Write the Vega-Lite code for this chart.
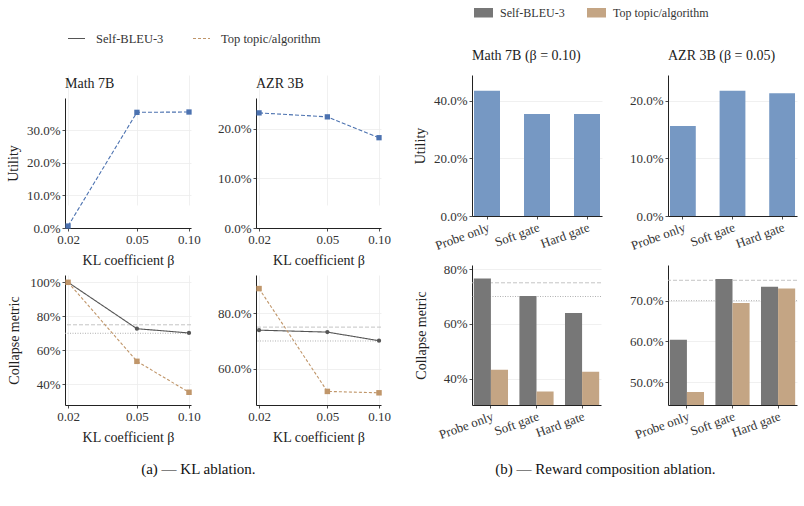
{
  "$schema": "https://vega.github.io/schema/vega-lite/v6.json",
  "padding": {"left": 6, "top": 1, "right": 5, "bottom": 5},
  "datasets": {
    "klUtil": [
      {"model": "Math 7B", "beta": 0.02, "value": 0.006},
      {"model": "Math 7B", "beta": 0.05, "value": 0.355},
      {"model": "Math 7B", "beta": 0.10, "value": 0.356},
      {"model": "AZR 3B", "beta": 0.02, "value": 0.232},
      {"model": "AZR 3B", "beta": 0.05, "value": 0.224},
      {"model": "AZR 3B", "beta": 0.10, "value": 0.182}
    ],
    "klCollapse": [
      {"model": "Math 7B", "series": "Self-BLEU-3", "beta": 0.02, "value": 1.0},
      {"model": "Math 7B", "series": "Self-BLEU-3", "beta": 0.05, "value": 0.727},
      {"model": "Math 7B", "series": "Self-BLEU-3", "beta": 0.10, "value": 0.702},
      {"model": "Math 7B", "series": "Top topic/algorithm", "beta": 0.02, "value": 1.0},
      {"model": "Math 7B", "series": "Top topic/algorithm", "beta": 0.05, "value": 0.535},
      {"model": "Math 7B", "series": "Top topic/algorithm", "beta": 0.10, "value": 0.353},
      {"model": "AZR 3B", "series": "Self-BLEU-3", "beta": 0.02, "value": 0.739},
      {"model": "AZR 3B", "series": "Self-BLEU-3", "beta": 0.05, "value": 0.732},
      {"model": "AZR 3B", "series": "Self-BLEU-3", "beta": 0.10, "value": 0.701},
      {"model": "AZR 3B", "series": "Top topic/algorithm", "beta": 0.02, "value": 0.889},
      {"model": "AZR 3B", "series": "Top topic/algorithm", "beta": 0.05, "value": 0.518},
      {"model": "AZR 3B", "series": "Top topic/algorithm", "beta": 0.10, "value": 0.513}
    ],
    "rcUtil": [
      {"model": "Math 7B", "variant": "Probe only", "value": 0.434},
      {"model": "Math 7B", "variant": "Soft gate", "value": 0.354},
      {"model": "Math 7B", "variant": "Hard gate", "value": 0.354},
      {"model": "AZR 3B", "variant": "Probe only", "value": 0.156},
      {"model": "AZR 3B", "variant": "Soft gate", "value": 0.217},
      {"model": "AZR 3B", "variant": "Hard gate", "value": 0.213}
    ],
    "rcCollapse": [
      {"model": "Math 7B", "series": "Self-BLEU-3", "variant": "Probe only", "value": 0.766},
      {"model": "Math 7B", "series": "Self-BLEU-3", "variant": "Soft gate", "value": 0.702},
      {"model": "Math 7B", "series": "Self-BLEU-3", "variant": "Hard gate", "value": 0.640},
      {"model": "Math 7B", "series": "Top topic/algorithm", "variant": "Probe only", "value": 0.433},
      {"model": "Math 7B", "series": "Top topic/algorithm", "variant": "Soft gate", "value": 0.353},
      {"model": "Math 7B", "series": "Top topic/algorithm", "variant": "Hard gate", "value": 0.425},
      {"model": "AZR 3B", "series": "Self-BLEU-3", "variant": "Probe only", "value": 0.604},
      {"model": "AZR 3B", "series": "Self-BLEU-3", "variant": "Soft gate", "value": 0.753},
      {"model": "AZR 3B", "series": "Self-BLEU-3", "variant": "Hard gate", "value": 0.734},
      {"model": "AZR 3B", "series": "Top topic/algorithm", "variant": "Probe only", "value": 0.476},
      {"model": "AZR 3B", "series": "Top topic/algorithm", "variant": "Soft gate", "value": 0.694},
      {"model": "AZR 3B", "series": "Top topic/algorithm", "variant": "Hard gate", "value": 0.730}
    ],
    "refs": [
      {"threshold": 0.75, "style": "dashed"},
      {"threshold": 0.70, "style": "dotted"}
    ]
  },
  "spacing": 22,
  "resolve": {
    "scale": {"color": "independent", "strokeDash": "independent"},
    "legend": {"color": "independent", "strokeDash": "independent"}
  },
  "hconcat": [
    {
      "title": {"text": "(a) — KL ablation.", "orient": "bottom", "anchor": "middle", "frame": "bounds", "fontSize": 15, "offset": 18, "color": "#111"},
      "bounds": "flush",
      "columns": 2,
      "spacing": {"row": 47, "column": 65},
      "concat": [
        {
          "width": 126, "height": 153,
          "title": {"text": "Math 7B", "offset": -16},
          "layer": [
            {
              "data": {"name": "klUtil"},
              "transform": [{"filter": "datum.model === 'Math 7B'"}],
              "mark": {"type": "line", "color": "#4c72b0", "strokeWidth": 1.1, "strokeDash": [4, 2]},
              "encoding": {
                "x": {"field": "beta", "type": "quantitative", "scale": {"type": "log", "domain": [0.0192, 0.1027], "nice": false}, "axis": {"values": [0.02, 0.05, 0.1], "format": ".2f", "title": "KL coefficient β"}},
                "y": {"field": "value", "type": "quantitative", "scale": {"domain": [0, 0.399], "range": [153, 23], "nice": false, "zero": false}, "axis": {"values": [0, 0.1, 0.2, 0.3], "format": ".1%", "title": "Utility"}}
              }
            },
            {
              "data": {"name": "klUtil"},
              "transform": [{"filter": "datum.model === 'Math 7B'"}],
              "mark": {"type": "point", "shape": "square", "filled": true, "size": 28, "color": "#4c72b0", "opacity": 1},
              "encoding": {
                "x": {"field": "beta", "type": "quantitative"},
                "y": {"field": "value", "type": "quantitative"}
              }
            }
          ]
        },
        {
          "width": 125, "height": 153,
          "title": {"text": "AZR 3B", "offset": -16},
          "layer": [
            {
              "data": {"name": "klUtil"},
              "transform": [{"filter": "datum.model === 'AZR 3B'"}],
              "mark": {"type": "line", "color": "#4c72b0", "strokeWidth": 1.1, "strokeDash": [4, 2]},
              "encoding": {
                "x": {"field": "beta", "type": "quantitative", "scale": {"type": "log", "domain": [0.0192, 0.1027], "nice": false}, "axis": {"values": [0.02, 0.05, 0.1], "format": ".2f", "title": "KL coefficient β"}},
                "y": {"field": "value", "type": "quantitative", "scale": {"domain": [0, 0.262], "range": [153, 23], "nice": false, "zero": false}, "axis": {"values": [0, 0.1, 0.2], "format": ".1%", "title": null}}
              }
            },
            {
              "data": {"name": "klUtil"},
              "transform": [{"filter": "datum.model === 'AZR 3B'"}],
              "mark": {"type": "point", "shape": "square", "filled": true, "size": 28, "color": "#4c72b0", "opacity": 1},
              "encoding": {
                "x": {"field": "beta", "type": "quantitative"},
                "y": {"field": "value", "type": "quantitative"}
              }
            }
          ]
        },
        {
          "width": 126, "height": 130,
          "layer": [
            {
              "data": {"name": "refs"},
              "transform": [{"filter": "datum.style === 'dashed'"}],
              "mark": {"type": "rule", "color": "#bdbdbd", "strokeWidth": 0.9, "strokeDash": [4, 2]},
              "encoding": {"y": {"field": "threshold", "type": "quantitative"}}
            },
            {
              "data": {"name": "refs"},
              "transform": [{"filter": "datum.style === 'dotted'"}],
              "mark": {"type": "rule", "color": "#a8a8a8", "strokeWidth": 0.9, "strokeDash": [1, 1.5]},
              "encoding": {"y": {"field": "threshold", "type": "quantitative"}}
            },
            {
              "data": {"name": "klCollapse"},
              "transform": [{"filter": "datum.model === 'Math 7B'"}],
              "mark": {"type": "line", "strokeWidth": 1.1},
              "encoding": {
                "x": {"field": "beta", "type": "quantitative", "scale": {"type": "log", "domain": [0.0192, 0.1027], "nice": false}, "axis": {"values": [0.02, 0.05, 0.1], "format": ".2f", "title": "KL coefficient β"}},
                "y": {"field": "value", "type": "quantitative", "scale": {"domain": [0.278, 1.043], "nice": false, "zero": false}, "axis": {"values": [0.4, 0.6, 0.8, 1.0], "format": ".0%", "title": "Collapse metric"}},
                "color": {"field": "series", "type": "nominal", "scale": {"domain": ["Self-BLEU-3", "Top topic/algorithm"], "range": ["#555555", "#c0966a"]}, "legend": {"title": null, "orient": "top", "direction": "horizontal", "symbolType": "stroke", "symbolSize": 289, "symbolStrokeWidth": 1.2, "labelFontSize": 12.5, "padding": 2, "offset": 28, "columnPadding": 26, "labelOffset": 10}},
                "strokeDash": {"field": "series", "type": "nominal", "scale": {"domain": ["Self-BLEU-3", "Top topic/algorithm"], "range": [[1, 0], [3, 2]]}, "legend": {"title": null, "orient": "top", "direction": "horizontal", "symbolType": "stroke", "symbolSize": 289, "symbolStrokeWidth": 1.2, "labelFontSize": 12.5, "padding": 2, "offset": 28, "columnPadding": 26, "labelOffset": 10}}
              }
            },
            {
              "data": {"name": "klCollapse"},
              "transform": [{"filter": "datum.model === 'Math 7B' && datum.series === 'Self-BLEU-3'"}],
              "mark": {"type": "point", "shape": "circle", "filled": true, "size": 18, "color": "#555555", "opacity": 1},
              "encoding": {"x": {"field": "beta", "type": "quantitative"}, "y": {"field": "value", "type": "quantitative"}}
            },
            {
              "data": {"name": "klCollapse"},
              "transform": [{"filter": "datum.model === 'Math 7B' && datum.series === 'Top topic/algorithm'"}],
              "mark": {"type": "point", "shape": "square", "filled": true, "size": 30, "color": "#c0966a", "opacity": 1},
              "encoding": {"x": {"field": "beta", "type": "quantitative"}, "y": {"field": "value", "type": "quantitative"}}
            }
          ]
        },
        {
          "width": 125, "height": 130,
          "layer": [
            {
              "data": {"name": "refs"},
              "transform": [{"filter": "datum.style === 'dashed'"}],
              "mark": {"type": "rule", "color": "#bdbdbd", "strokeWidth": 0.9, "strokeDash": [4, 2]},
              "encoding": {"y": {"field": "threshold", "type": "quantitative"}}
            },
            {
              "data": {"name": "refs"},
              "transform": [{"filter": "datum.style === 'dotted'"}],
              "mark": {"type": "rule", "color": "#a8a8a8", "strokeWidth": 0.9, "strokeDash": [1, 1.5]},
              "encoding": {"y": {"field": "threshold", "type": "quantitative"}}
            },
            {
              "data": {"name": "klCollapse"},
              "transform": [{"filter": "datum.model === 'AZR 3B'"}],
              "mark": {"type": "line", "strokeWidth": 1.1},
              "encoding": {
                "x": {"field": "beta", "type": "quantitative", "scale": {"type": "log", "domain": [0.0192, 0.1027], "nice": false}, "axis": {"values": [0.02, 0.05, 0.1], "format": ".2f", "title": "KL coefficient β"}},
                "y": {"field": "value", "type": "quantitative", "scale": {"domain": [0.469, 0.938], "nice": false, "zero": false}, "axis": {"values": [0.6, 0.8], "format": ".1%", "title": null}},
                "color": {"field": "series", "type": "nominal", "scale": {"domain": ["Self-BLEU-3", "Top topic/algorithm"], "range": ["#555555", "#c0966a"]}, "legend": {"title": null, "orient": "top", "direction": "horizontal", "symbolType": "stroke", "symbolSize": 289, "symbolStrokeWidth": 1.2, "labelFontSize": 12.5, "padding": 2, "offset": 28, "columnPadding": 26, "labelOffset": 10}},
                "strokeDash": {"field": "series", "type": "nominal", "scale": {"domain": ["Self-BLEU-3", "Top topic/algorithm"], "range": [[1, 0], [3, 2]]}, "legend": {"title": null, "orient": "top", "direction": "horizontal", "symbolType": "stroke", "symbolSize": 289, "symbolStrokeWidth": 1.2, "labelFontSize": 12.5, "padding": 2, "offset": 28, "columnPadding": 26, "labelOffset": 10}}
              }
            },
            {
              "data": {"name": "klCollapse"},
              "transform": [{"filter": "datum.model === 'AZR 3B' && datum.series === 'Self-BLEU-3'"}],
              "mark": {"type": "point", "shape": "circle", "filled": true, "size": 18, "color": "#555555", "opacity": 1},
              "encoding": {"x": {"field": "beta", "type": "quantitative"}, "y": {"field": "value", "type": "quantitative"}}
            },
            {
              "data": {"name": "klCollapse"},
              "transform": [{"filter": "datum.model === 'AZR 3B' && datum.series === 'Top topic/algorithm'"}],
              "mark": {"type": "point", "shape": "square", "filled": true, "size": 30, "color": "#c0966a", "opacity": 1},
              "encoding": {"x": {"field": "beta", "type": "quantitative"}, "y": {"field": "value", "type": "quantitative"}}
            }
          ]
        }
      ]
    },
    {
      "title": {"text": "(b) — Reward composition ablation.", "orient": "bottom", "anchor": "middle", "frame": "bounds", "fontSize": 15, "offset": 20, "color": "#111"},
      "bounds": "flush",
      "columns": 2,
      "spacing": {"row": 49, "column": 66},
      "concat": [
        {
          "width": 130, "height": 141,
          "title": {"text": "Math 7B (β = 0.10)", "offset": 12},
          "data": {"name": "rcUtil"},
          "transform": [{"filter": "datum.model === 'Math 7B'"}],
          "mark": {"type": "bar", "color": "#7698c3"},
          "encoding": {
            "x": {"field": "variant", "type": "nominal", "sort": ["Probe only", "Soft gate", "Hard gate"], "scale": {"paddingInner": 0.48, "paddingOuter": 0.04}, "axis": {"labelAngle": -20, "title": null}},
            "y": {"field": "value", "type": "quantitative", "scale": {"domain": [0, 0.489], "nice": false, "zero": false}, "axis": {"values": [0, 0.2, 0.4], "format": ".1%", "title": "Utility"}}
          }
        },
        {
          "width": 129, "height": 141,
          "title": {"text": "AZR 3B (β = 0.05)", "offset": 12},
          "data": {"name": "rcUtil"},
          "transform": [{"filter": "datum.model === 'AZR 3B'"}],
          "mark": {"type": "bar", "color": "#7698c3"},
          "encoding": {
            "x": {"field": "variant", "type": "nominal", "sort": ["Probe only", "Soft gate", "Hard gate"], "scale": {"paddingInner": 0.48, "paddingOuter": 0.04}, "axis": {"labelAngle": -20, "title": null}},
            "y": {"field": "value", "type": "quantitative", "scale": {"domain": [0, 0.2445], "nice": false, "zero": false}, "axis": {"values": [0, 0.1, 0.2], "format": ".1%", "title": null}}
          }
        },
        {
          "width": 129, "height": 140,
          "layer": [
            {
              "data": {"name": "refs"},
              "transform": [{"filter": "datum.style === 'dashed'"}],
              "mark": {"type": "rule", "color": "#bdbdbd", "strokeWidth": 0.9, "strokeDash": [4, 2]},
              "encoding": {"y": {"field": "threshold", "type": "quantitative"}}
            },
            {
              "data": {"name": "refs"},
              "transform": [{"filter": "datum.style === 'dotted'"}],
              "mark": {"type": "rule", "color": "#a8a8a8", "strokeWidth": 0.9, "strokeDash": [1, 1.5]},
              "encoding": {"y": {"field": "threshold", "type": "quantitative"}}
            },
            {
              "data": {"name": "rcCollapse"},
              "transform": [{"filter": "datum.model === 'Math 7B'"}],
              "mark": {"type": "bar", "clip": true},
              "encoding": {
                "x": {"field": "variant", "type": "nominal", "sort": ["Probe only", "Soft gate", "Hard gate"], "scale": {"paddingInner": 0.25, "paddingOuter": 0.04}, "axis": {"labelAngle": -20, "title": null}},
                "xOffset": {"field": "series", "sort": ["Self-BLEU-3", "Top topic/algorithm"], "scale": {"paddingInner": 0, "paddingOuter": 0}},
                "y": {"field": "value", "type": "quantitative", "scale": {"domain": [0.304, 0.815], "nice": false, "zero": false}, "axis": {"values": [0.4, 0.6, 0.8], "format": ".0%", "title": "Collapse metric"}},
                "color": {"field": "series", "type": "nominal", "scale": {"domain": ["Self-BLEU-3", "Top topic/algorithm"], "range": ["#777777", "#c4a584"]}, "legend": {"title": null, "orient": "top", "direction": "horizontal", "symbolType": "M-1,-0.5H1V0.5H-1Z", "symbolSize": 361, "symbolStrokeWidth": 0, "labelFontSize": 12, "padding": 2, "offset": 28, "columnPadding": 22, "labelOffset": 7}}
              }
            }
          ]
        },
        {
          "width": 129, "height": 140,
          "layer": [
            {
              "data": {"name": "refs"},
              "transform": [{"filter": "datum.style === 'dashed'"}],
              "mark": {"type": "rule", "color": "#bdbdbd", "strokeWidth": 0.9, "strokeDash": [4, 2]},
              "encoding": {"y": {"field": "threshold", "type": "quantitative"}}
            },
            {
              "data": {"name": "refs"},
              "transform": [{"filter": "datum.style === 'dotted'"}],
              "mark": {"type": "rule", "color": "#a8a8a8", "strokeWidth": 0.9, "strokeDash": [1, 1.5]},
              "encoding": {"y": {"field": "threshold", "type": "quantitative"}}
            },
            {
              "data": {"name": "rcCollapse"},
              "transform": [{"filter": "datum.model === 'AZR 3B'"}],
              "mark": {"type": "bar", "clip": true},
              "encoding": {
                "x": {"field": "variant", "type": "nominal", "sort": ["Probe only", "Soft gate", "Hard gate"], "scale": {"paddingInner": 0.25, "paddingOuter": 0.04}, "axis": {"labelAngle": -20, "title": null}},
                "xOffset": {"field": "series", "sort": ["Self-BLEU-3", "Top topic/algorithm"], "scale": {"paddingInner": 0, "paddingOuter": 0}},
                "y": {"field": "value", "type": "quantitative", "scale": {"domain": [0.444, 0.7875], "nice": false, "zero": false}, "axis": {"values": [0.5, 0.6, 0.7], "format": ".1%", "title": null}},
                "color": {"field": "series", "type": "nominal", "scale": {"domain": ["Self-BLEU-3", "Top topic/algorithm"], "range": ["#777777", "#c4a584"]}, "legend": {"title": null, "orient": "top", "direction": "horizontal", "symbolType": "M-1,-0.5H1V0.5H-1Z", "symbolSize": 361, "symbolStrokeWidth": 0, "labelFontSize": 12, "padding": 2, "offset": 28, "columnPadding": 22, "labelOffset": 7}}
              }
            }
          ]
        }
      ]
    }
  ],
  "config": {
    "font": "Liberation Serif",
    "view": {"stroke": null},
    "axis": {
      "labelFont": "Liberation Serif", "labelFontSize": 13, "labelColor": "#333",
      "titleFont": "Liberation Serif", "titleFontSize": 14, "titleFontWeight": "normal", "titleColor": "#222",
      "domainColor": "#222", "domainWidth": 1, "tickColor": "#222", "tickSize": 3, "tickWidth": 0.8,
      "gridColor": "#ececec", "gridWidth": 0.8, "labelPadding": 2
    },
    "axisY": {"minExtent": 38, "titlePadding": 6},
    "axisX": {"titlePadding": 7},
    "legend": {"labelFont": "Liberation Serif", "labelColor": "#333"},
    "title": {"font": "Liberation Serif", "fontSize": 14, "fontWeight": "normal", "color": "#222", "anchor": "start", "frame": "group", "offset": 8}
  }
}
